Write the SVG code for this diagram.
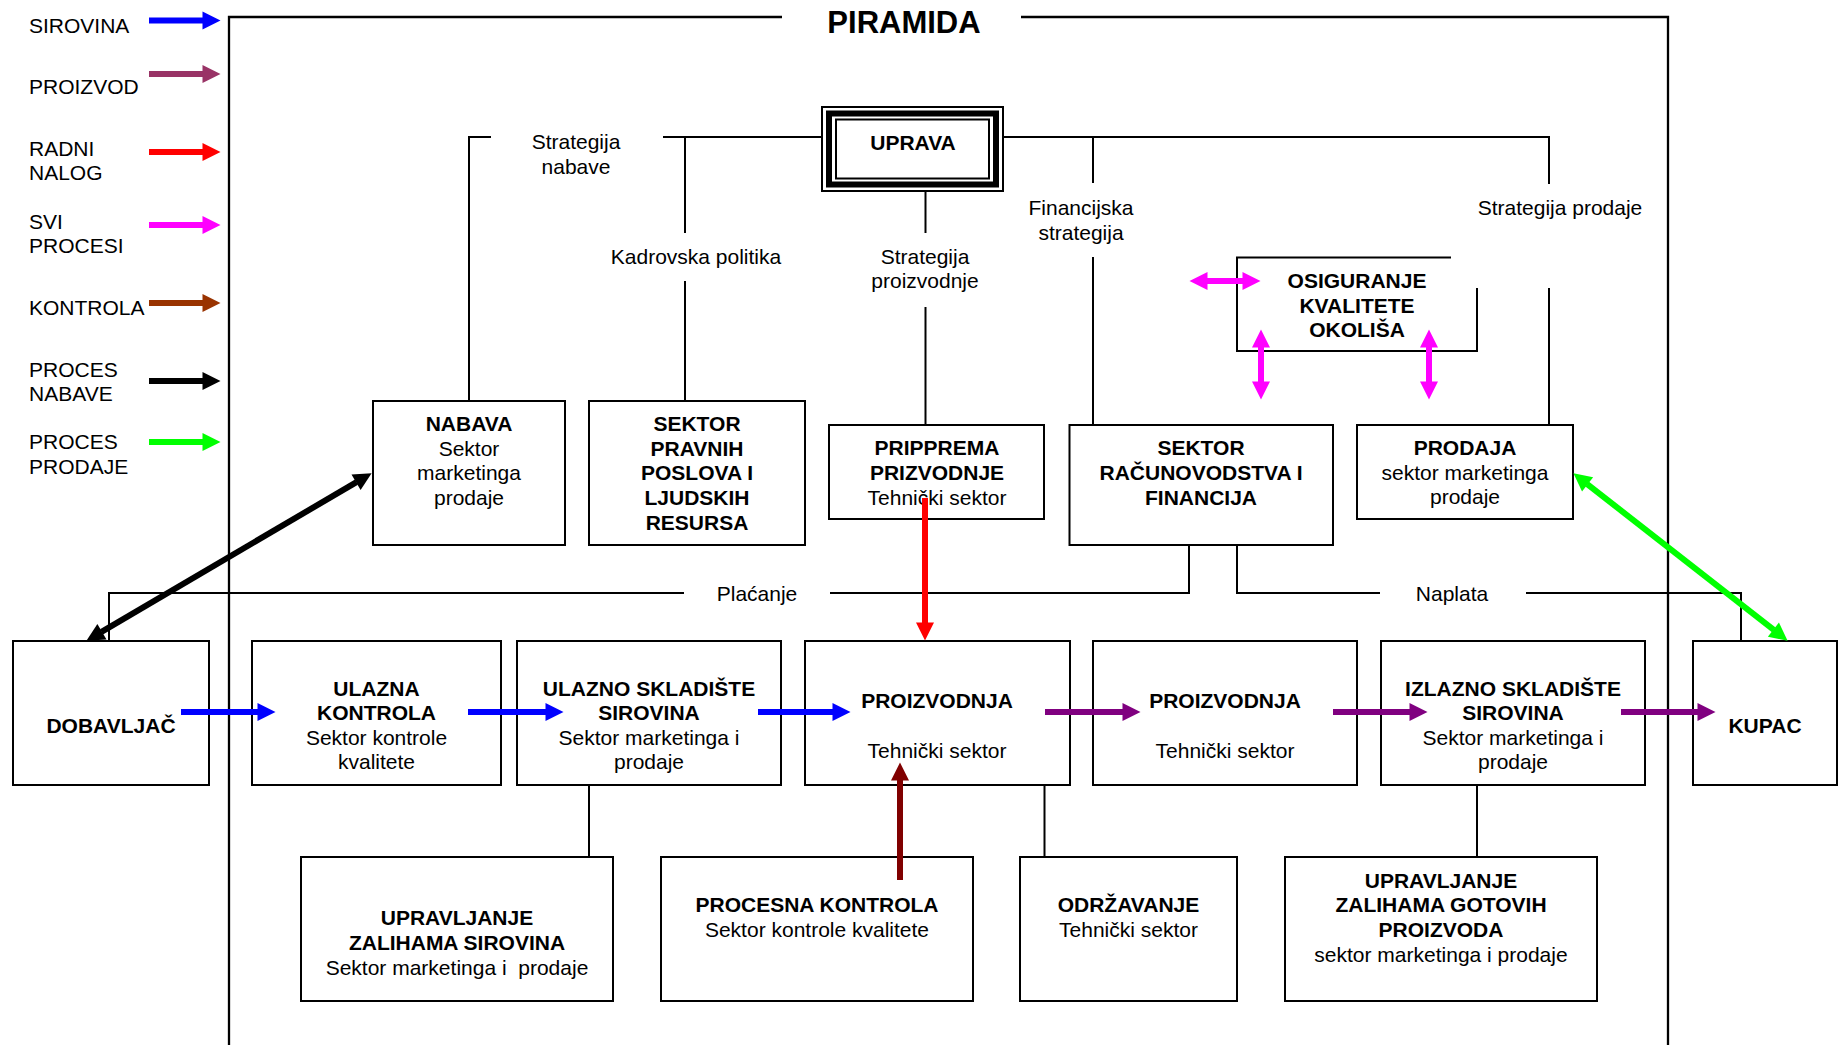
<svg xmlns="http://www.w3.org/2000/svg" width="1841" height="1045" viewBox="0 0 1841 1045">
<style>
  text { font-family: "Liberation Sans", Arial, sans-serif; font-size: 21px; fill: #000; text-anchor: middle; }
  .b { font-weight: bold; }
  .lg { text-anchor: start; }
  .title { font-size: 31px; font-weight: bold; }
  .box { fill: #fff; stroke: #000; stroke-width: 2; }
  .ln { fill: none; stroke: #000; stroke-width: 2; }
  .frame { fill: none; stroke: #000; stroke-width: 2.3; }
  .ar { fill: none; stroke-width: 6; }
</style>
<defs>
  <marker id="hBlue" markerUnits="userSpaceOnUse" markerWidth="18" markerHeight="18" refX="0.5" refY="9" orient="auto-start-reverse" overflow="visible"><path d="M0,0 L18,9 L0,18 Z" fill="#0000FF"/></marker>
  <marker id="hProiz" markerUnits="userSpaceOnUse" markerWidth="18" markerHeight="18" refX="0.5" refY="9" orient="auto-start-reverse" overflow="visible"><path d="M0,0 L18,9 L0,18 Z" fill="#993366"/></marker>
  <marker id="hRed" markerUnits="userSpaceOnUse" markerWidth="18" markerHeight="18" refX="0.5" refY="9" orient="auto-start-reverse" overflow="visible"><path d="M0,0 L18,9 L0,18 Z" fill="#FF0000"/></marker>
  <marker id="hMag" markerUnits="userSpaceOnUse" markerWidth="18" markerHeight="18" refX="0.5" refY="9" orient="auto-start-reverse" overflow="visible"><path d="M0,0 L18,9 L0,18 Z" fill="#FF00FF"/></marker>
  <marker id="hBrown" markerUnits="userSpaceOnUse" markerWidth="18" markerHeight="18" refX="0.5" refY="9" orient="auto-start-reverse" overflow="visible"><path d="M0,0 L18,9 L0,18 Z" fill="#993300"/></marker>
  <marker id="hBlack" markerUnits="userSpaceOnUse" markerWidth="18" markerHeight="18" refX="0.5" refY="9" orient="auto-start-reverse" overflow="visible"><path d="M0,0 L18,9 L0,18 Z" fill="#000000"/></marker>
  <marker id="hGreen" markerUnits="userSpaceOnUse" markerWidth="18" markerHeight="18" refX="0.5" refY="9" orient="auto-start-reverse" overflow="visible"><path d="M0,0 L18,9 L0,18 Z" fill="#00FF00"/></marker>
  <marker id="hPurple" markerUnits="userSpaceOnUse" markerWidth="18" markerHeight="18" refX="0.5" refY="9" orient="auto-start-reverse" overflow="visible"><path d="M0,0 L18,9 L0,18 Z" fill="#800080"/></marker>
  <marker id="hDark" markerUnits="userSpaceOnUse" markerWidth="18" markerHeight="18" refX="0.5" refY="9" orient="auto-start-reverse" overflow="visible"><path d="M0,0 L18,9 L0,18 Z" fill="#800000"/></marker>
</defs>
<rect width="1841" height="1045" fill="#fff"/>

<g id="legend">
  <text class="lg" x="29" y="32.5">SIROVINA</text>
  <line class="ar" x1="149" y1="20.5" x2="203" y2="20.5" stroke="#0000FF" marker-end="url(#hBlue)"/>
  <text class="lg" x="29" y="93.5">PROIZVOD</text>
  <line class="ar" x1="149" y1="74" x2="203" y2="74" stroke="#993366" marker-end="url(#hProiz)"/>
  <text class="lg" x="29" y="155.5">RADNI</text>
  <text class="lg" x="29" y="179.5">NALOG</text>
  <line class="ar" x1="149" y1="152" x2="203" y2="152" stroke="#FF0000" marker-end="url(#hRed)"/>
  <text class="lg" x="29" y="228.5">SVI</text>
  <text class="lg" x="29" y="253">PROCESI</text>
  <line class="ar" x1="149" y1="225" x2="203" y2="225" stroke="#FF00FF" marker-end="url(#hMag)"/>
  <text class="lg" x="29" y="314.5">KONTROLA</text>
  <line class="ar" x1="149" y1="303" x2="203" y2="303" stroke="#993300" marker-end="url(#hBrown)"/>
  <text class="lg" x="29" y="376.5">PROCES</text>
  <text class="lg" x="29" y="400.5">NABAVE</text>
  <line class="ar" x1="149" y1="381" x2="203" y2="381" stroke="#000000" marker-end="url(#hBlack)"/>
  <text class="lg" x="29" y="449">PROCES</text>
  <text class="lg" x="29" y="474">PRODAJE</text>
  <line class="ar" x1="149" y1="442" x2="203" y2="442" stroke="#00FF00" marker-end="url(#hGreen)"/>
</g>

<g id="frame">
  <path class="frame" d="M782,17 H229 V1046"/>
  <path class="frame" d="M1021,17 H1668 V1046"/>
  <text class="title" x="904" y="33">PIRAMIDA</text>
</g>

<g id="labels">
  <text x="576" y="149">Strategija</text>
  <text x="576" y="173.5">nabave</text>
  <text x="696" y="263.5">Kadrovska politika</text>
  <text x="925" y="263.5">Strategija</text>
  <text x="925" y="288">proizvodnje</text>
  <text x="1081" y="215">Financijska</text>
  <text x="1081" y="239.5">strategija</text>
  <text x="1560" y="214.5">Strategija prodaje</text>
  <text x="757" y="600.5">Plaćanje</text>
  <text x="1452" y="600.5">Naplata</text>
</g>

<g id="node-uprava">
  <rect x="822" y="107" width="181" height="84" fill="#fff" stroke="#000" stroke-width="2"/>
  <rect x="829" y="113.5" width="167" height="71" fill="none" stroke="#000" stroke-width="6"/>
  <rect x="836" y="119.5" width="153" height="59" fill="#fff" stroke="#000" stroke-width="2"/>
  <text class="b" x="913" y="150">UPRAVA</text>
</g>

<g id="node-nabava">
  <rect class="box" x="373" y="401" width="192" height="144"/>
  <text class="b" x="469" y="430.5">NABAVA</text>
  <text x="469" y="455.5">Sektor</text>
  <text x="469" y="480">marketinga</text>
  <text x="469" y="505">prodaje</text>
</g>

<g id="node-pravni">
  <rect class="box" x="589" y="401" width="216" height="144"/>
  <text class="b" x="697" y="430.5">SEKTOR</text>
  <text class="b" x="697" y="455.5">PRAVNIH</text>
  <text class="b" x="697" y="480">POSLOVA I</text>
  <text class="b" x="697" y="505">LJUDSKIH</text>
  <text class="b" x="697" y="530">RESURSA</text>
</g>

<g id="node-priprema">
  <rect class="box" x="829" y="425" width="215" height="94"/>
  <text class="b" x="937" y="455">PRIPPREMA</text>
  <text class="b" x="937" y="480">PRIZVODNJE</text>
  <text x="937" y="505">Tehnički sektor</text>
</g>

<g id="node-racunovodstvo">
  <rect class="box" x="1069.5" y="425" width="263.5" height="120"/>
  <text class="b" x="1201" y="455">SEKTOR</text>
  <text class="b" x="1201" y="480">RAČUNOVODSTVA I</text>
  <text class="b" x="1201" y="505">FINANCIJA</text>
</g>

<g id="node-prodaja">
  <rect class="box" x="1357" y="425" width="216" height="94"/>
  <text class="b" x="1465" y="455">PRODAJA</text>
  <text x="1465" y="480">sektor marketinga</text>
  <text x="1465" y="504">prodaje</text>
</g>

<g id="node-osiguranje">
  <path d="M1451,257.5 H1237 V351 H1477 V288" fill="none" stroke="#000" stroke-width="2"/>
  <text class="b" x="1357" y="288">OSIGURANJE</text>
  <text class="b" x="1357" y="312.5">KVALITETE</text>
  <text class="b" x="1357" y="337">OKOLIŠA</text>
</g>

<g id="node-dobavljac">
  <rect class="box" x="13" y="641" width="196" height="144"/>
  <text class="b" x="111" y="733">DOBAVLJAČ</text>
</g>

<g id="node-ulazna-kontrola">
  <rect class="box" x="252" y="641" width="249" height="144"/>
  <text class="b" x="376.5" y="695.5">ULAZNA</text>
  <text class="b" x="376.5" y="720">KONTROLA</text>
  <text x="376.5" y="744.5">Sektor kontrole</text>
  <text x="376.5" y="769">kvalitete</text>
</g>

<g id="node-ulazno-skladiste">
  <rect class="box" x="517" y="641" width="264" height="144"/>
  <text class="b" x="649" y="695.5">ULAZNO SKLADIŠTE</text>
  <text class="b" x="649" y="720">SIROVINA</text>
  <text x="649" y="744.5">Sektor marketinga i</text>
  <text x="649" y="769">prodaje</text>
</g>

<g id="node-proizvodnja-1">
  <rect class="box" x="805" y="641" width="265" height="144"/>
  <text class="b" x="937" y="708">PROIZVODNJA</text>
  <text x="937" y="757.5">Tehnički sektor</text>
</g>

<g id="node-proizvodnja-2">
  <rect class="box" x="1093" y="641" width="264" height="144"/>
  <text class="b" x="1225" y="708">PROIZVODNJA</text>
  <text x="1225" y="757.5">Tehnički sektor</text>
</g>

<g id="node-izlazno-skladiste">
  <rect class="box" x="1381" y="641" width="264" height="144"/>
  <text class="b" x="1513" y="695.5">IZLAZNO SKLADIŠTE</text>
  <text class="b" x="1513" y="720">SIROVINA</text>
  <text x="1513" y="744.5">Sektor marketinga i</text>
  <text x="1513" y="769">prodaje</text>
</g>

<g id="node-kupac">
  <rect class="box" x="1693" y="641" width="144" height="144"/>
  <text class="b" x="1765" y="733">KUPAC</text>
</g>

<g id="node-zalihe-sirovina">
  <rect class="box" x="301" y="857" width="312" height="144"/>
  <text class="b" x="457" y="925">UPRAVLJANJE</text>
  <text class="b" x="457" y="950">ZALIHAMA SIROVINA</text>
  <text x="457" y="975" xml:space="preserve">Sektor marketinga i  prodaje</text>
</g>

<g id="node-procesna-kontrola">
  <rect class="box" x="661" y="857" width="312" height="144"/>
  <text class="b" x="817" y="912">PROCESNA KONTROLA</text>
  <text x="817" y="937">Sektor kontrole kvalitete</text>
</g>

<g id="node-odrzavanje">
  <rect class="box" x="1020" y="857" width="217" height="144"/>
  <text class="b" x="1128.5" y="912">ODRŽAVANJE</text>
  <text x="1128.5" y="937">Tehnički sektor</text>
</g>

<g id="node-zalihe-gotovih">
  <rect class="box" x="1285" y="857" width="312" height="144"/>
  <text class="b" x="1441" y="887.5">UPRAVLJANJE</text>
  <text class="b" x="1441" y="912">ZALIHAMA GOTOVIH</text>
  <text class="b" x="1441" y="937">PROIZVODA</text>
  <text x="1441" y="962">sektor marketinga i prodaje</text>
</g>

<g id="connectors">
  <path class="ln" d="M491,137 H469 V401"/>
  <path class="ln" d="M663,137 H822"/>
  <path class="ln" d="M685,137 V233"/>
  <path class="ln" d="M685,281 V401"/>
  <path class="ln" d="M925.5,192 V233"/>
  <path class="ln" d="M925.5,307 V425"/>
  <path class="ln" d="M1003,137 H1549 V184"/>
  <path class="ln" d="M1549,288 V425"/>
  <path class="ln" d="M1093,137 V183"/>
  <path class="ln" d="M1093,257 V425"/>
  <path class="ln" d="M684,593 H109 V641"/>
  <path class="ln" d="M830,593 H1189 V545"/>
  <path class="ln" d="M1237,545 V593 H1380"/>
  <path class="ln" d="M1526,593 H1741 V641"/>
  <path class="ln" d="M589,785 V857"/>
  <path class="ln" d="M1044.5,785 V857"/>
  <path class="ln" d="M1477,785 V857"/>

  <line class="ar" x1="181" y1="712" x2="258" y2="712" stroke="#0000FF" marker-end="url(#hBlue)"/>
  <line class="ar" x1="468" y1="712" x2="546" y2="712" stroke="#0000FF" marker-end="url(#hBlue)"/>
  <line class="ar" x1="758" y1="712" x2="833" y2="712" stroke="#0000FF" marker-end="url(#hBlue)"/>
  <line class="ar" x1="1045" y1="712" x2="1123" y2="712" stroke="#800080" marker-end="url(#hPurple)"/>
  <line class="ar" x1="1333" y1="712" x2="1410" y2="712" stroke="#800080" marker-end="url(#hPurple)"/>
  <line class="ar" x1="1621" y1="712" x2="1698" y2="712" stroke="#800080" marker-end="url(#hPurple)"/>
  <line class="ar" x1="925" y1="498" x2="925" y2="623" stroke="#FF0000" stroke-width="5" marker-end="url(#hRed)"/>
  <line class="ar" x1="900" y1="880" x2="900" y2="780" stroke="#800000" marker-end="url(#hDark)"/>
  <line class="ar" x1="101.5" y1="631.9" x2="356.5" y2="482.1" stroke="#000000" stroke-width="5" marker-start="url(#hBlack)" marker-end="url(#hBlack)"/>
  <line class="ar" x1="1587.2" y1="484.1" x2="1773.8" y2="629.9" stroke="#00FF00" marker-start="url(#hGreen)" marker-end="url(#hGreen)"/>
  <line class="ar" x1="1207" y1="281" x2="1243" y2="281" stroke="#FF00FF" stroke-width="5" marker-start="url(#hMag)" marker-end="url(#hMag)"/>
  <line class="ar" x1="1261" y1="347" x2="1261" y2="382" stroke="#FF00FF" stroke-width="5" marker-start="url(#hMag)" marker-end="url(#hMag)"/>
  <line class="ar" x1="1429" y1="347" x2="1429" y2="382" stroke="#FF00FF" stroke-width="5" marker-start="url(#hMag)" marker-end="url(#hMag)"/>
</g>
</svg>
